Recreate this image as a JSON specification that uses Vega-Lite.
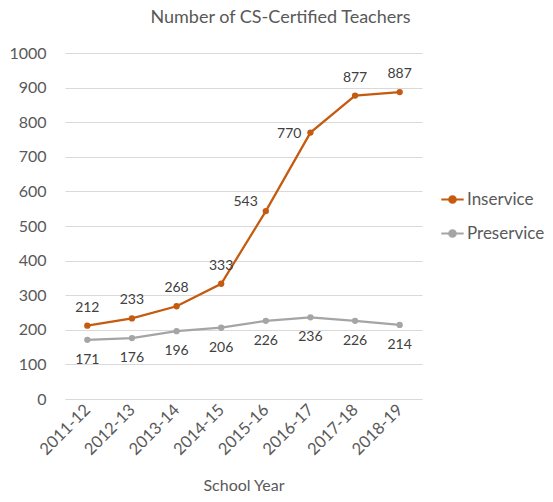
{
  "$schema": "https://vega.github.io/schema/vega-lite/v6.json",
  "autosize": "none",
  "width": 357,
  "height": 346,
  "padding": {"left": 65, "top": 53, "right": 131, "bottom": 103},
  "background": "white",
  "config": {
    "font": "Lato",
    "view": {"stroke": null},
    "axis": {"labelColor": "#595959", "titleColor": "#595959", "labelFont": "Lato", "titleFont": "Lato"}
  },
  "title": {
    "text": "Number of CS-Certified Teachers",
    "fontSize": 18,
    "fontWeight": "normal",
    "color": "#595959",
    "font": "Lato",
    "anchor": "middle",
    "dx": 37,
    "offset": 18
  },
  "data": {
    "values": [
      {"year": "2011-12", "type": "Inservice", "n": 212},
      {"year": "2012-13", "type": "Inservice", "n": 233},
      {"year": "2013-14", "type": "Inservice", "n": 268},
      {"year": "2014-15", "type": "Inservice", "n": 333},
      {"year": "2015-16", "type": "Inservice", "n": 543},
      {"year": "2016-17", "type": "Inservice", "n": 770},
      {"year": "2017-18", "type": "Inservice", "n": 877},
      {"year": "2018-19", "type": "Inservice", "n": 887},
      {"year": "2011-12", "type": "Preservice", "n": 171},
      {"year": "2012-13", "type": "Preservice", "n": 176},
      {"year": "2013-14", "type": "Preservice", "n": 196},
      {"year": "2014-15", "type": "Preservice", "n": 206},
      {"year": "2015-16", "type": "Preservice", "n": 226},
      {"year": "2016-17", "type": "Preservice", "n": 236},
      {"year": "2017-18", "type": "Preservice", "n": 226},
      {"year": "2018-19", "type": "Preservice", "n": 214}
    ]
  },
  "encoding": {
    "x": {
      "field": "year",
      "type": "nominal",
      "sort": null,
      "scale": {"type": "point", "padding": 0.5},
      "axis": {
        "title": "School Year",
        "titleFontSize": 16,
        "titleFontWeight": "normal",
        "titlePadding": 20,
        "labelAngle": -45,
        "labelAlign": "right",
        "labelBaseline": "middle",
        "labelFontSize": 16.5,
        "labelPadding": 8,
        "ticks": false,
        "domain": true,
        "domainColor": "#d9d9d9",
        "domainWidth": 1,
        "grid": false
      }
    },
    "y": {
      "field": "n",
      "type": "quantitative",
      "scale": {"domain": [0, 1000], "nice": false},
      "axis": {
        "title": null,
        "format": "d",
        "values": [0, 100, 200, 300, 400, 500, 600, 700, 800, 900, 1000],
        "labelFontSize": 16,
        "labelPadding": 19,
        "ticks": false,
        "domain": false,
        "grid": true,
        "gridColor": "#d9d9d9",
        "gridWidth": 1
      }
    },
    "color": {
      "field": "type",
      "type": "nominal",
      "scale": {"domain": ["Inservice", "Preservice"], "range": ["#C55A11", "#A5A5A5"]},
      "legend": {
        "title": null,
        "orient": "none",
        "legendX": 375,
        "legendY": 134,
        "labelFontSize": 17,
        "labelColor": "#595959",
        "labelFont": "Lato",
        "rowPadding": 13,
        "symbolType": "M-1,0H1M-0.3,0A0.3,0.3 0 1,1 0.3,0A0.3,0.3 0 1,1 -0.3,0",
        "symbolSize": 500,
        "symbolStrokeWidth": 2,
        "labelOffset": 2,
        "encode": {"symbols": {"update": {"fill": {"scale": "color", "field": "value"}}}}
      }
    }
  },
  "layer": [
    {"mark": {"type": "line", "interpolate": "linear", "strokeWidth": 2.25}},
    {"mark": {"type": "point", "filled": true, "size": 40, "opacity": 1}},
    {
      "transform": [{"filter": "datum.type == 'Inservice' && datum.n != 543 && datum.n != 770"}],
      "mark": {"type": "text", "fontSize": 14, "dy": -18, "baseline": "middle"},
      "encoding": {"text": {"field": "n"}, "color": {"value": "#404040"}}
    },
    {
      "transform": [{"filter": "datum.type == 'Inservice' && datum.n == 543"}],
      "mark": {"type": "text", "fontSize": 14, "align": "right", "dx": -8, "dy": -9, "baseline": "middle"},
      "encoding": {"text": {"field": "n"}, "color": {"value": "#404040"}}
    },
    {
      "transform": [{"filter": "datum.type == 'Inservice' && datum.n == 770"}],
      "mark": {"type": "text", "fontSize": 14, "align": "right", "dx": -9, "dy": 1, "baseline": "middle"},
      "encoding": {"text": {"field": "n"}, "color": {"value": "#404040"}}
    },
    {
      "transform": [{"filter": "datum.type == 'Preservice'"}],
      "mark": {"type": "text", "fontSize": 14, "dy": 20, "baseline": "middle"},
      "encoding": {"text": {"field": "n"}, "color": {"value": "#404040"}}
    }
  ]
}
